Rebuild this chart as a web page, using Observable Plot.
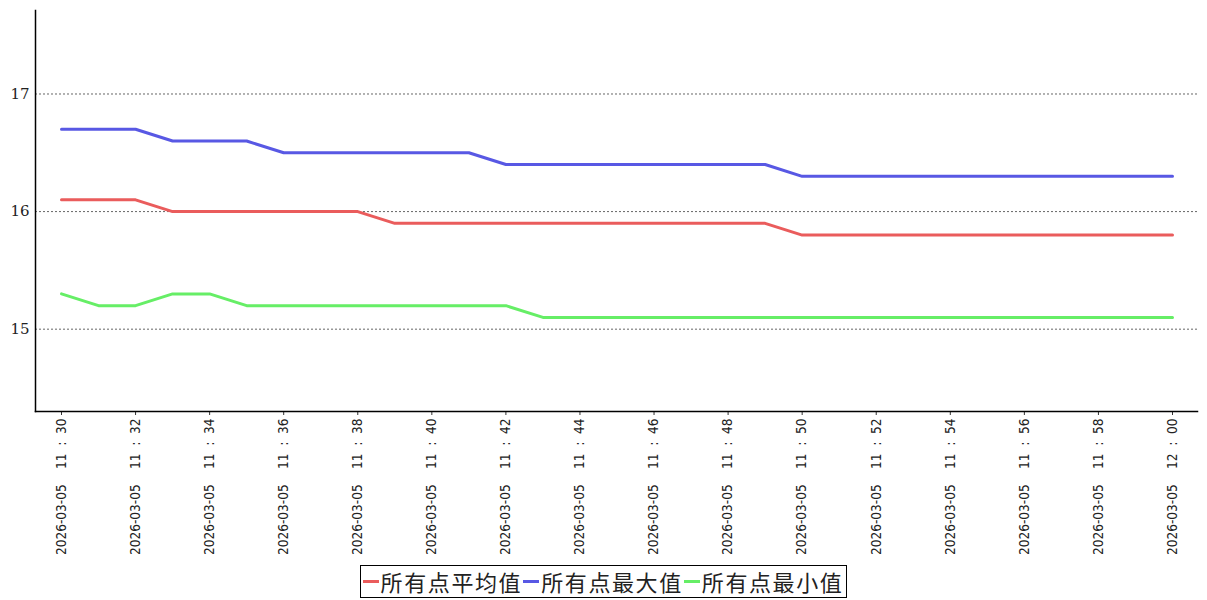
<!DOCTYPE html>
<html>
<head>
<meta charset="utf-8">
<script src="https://cdn.jsdelivr.net/npm/d3@7"></script>
<script src="https://cdn.jsdelivr.net/npm/@observablehq/plot@0.6"></script>
<style>
  html, body { margin: 0; padding: 0; background: #fff; }
  #chart svg { display: block; }
  .legend {
    display: flex; justify-content: center; margin-top: 3px;
  }
  .legend-box {
    display: inline-flex; align-items: center; border: 1px solid #000;
    padding: 1px 3px 1px 1px; font-family: "Noto Sans CJK SC", sans-serif; font-size: 22px;
    letter-spacing: 1.6px; line-height: 29px; color: #222;
  }
  .legend-item { display: inline-flex; align-items: center; }
  .swatch { display: inline-block; width: 16px; height: 3px; margin: 0 2px 0 1px; }
</style>
</head>
<body>
<div id="chart"></div>
<div class="legend"><div class="legend-box" id="legend"></div></div>
<script>
// Sampling times (one per minute) on 2026-03-05
const minutes = [
  "11:30", "11:31", "11:32", "11:33", "11:34", "11:35", "11:36", "11:37",
  "11:38", "11:39", "11:40", "11:41", "11:42", "11:43", "11:44", "11:45",
  "11:46", "11:47", "11:48", "11:49", "11:50", "11:51", "11:52", "11:53",
  "11:54", "11:55", "11:56", "11:57", "11:58", "11:59", "12:00"
];

// Average over all points
const avgVals = [
  16.1, 16.1, 16.1, 16.0, 16.0, 16.0, 16.0, 16.0, 16.0, 15.9, 15.9,
  15.9, 15.9, 15.9, 15.9, 15.9, 15.9, 15.9, 15.9, 15.9, 15.8, 15.8,
  15.8, 15.8, 15.8, 15.8, 15.8, 15.8, 15.8, 15.8, 15.8
];

// Maximum over all points
const maxVals = [
  16.7, 16.7, 16.7, 16.6, 16.6, 16.6, 16.5, 16.5, 16.5, 16.5, 16.5,
  16.5, 16.4, 16.4, 16.4, 16.4, 16.4, 16.4, 16.4, 16.4, 16.3, 16.3,
  16.3, 16.3, 16.3, 16.3, 16.3, 16.3, 16.3, 16.3, 16.3
];

// Minimum over all points
const minVals = [
  15.3, 15.2, 15.2, 15.3, 15.3, 15.2, 15.2, 15.2, 15.2, 15.2, 15.2,
  15.2, 15.2, 15.1, 15.1, 15.1, 15.1, 15.1, 15.1, 15.1, 15.1, 15.1,
  15.1, 15.1, 15.1, 15.1, 15.1, 15.1, 15.1, 15.1, 15.1
];

const seriesNames = ["所有点平均值", "所有点最大值", "所有点最小值"];
const seriesColors = ["#ea5c5c", "#5858e4", "#66ee66"];
const yTicks = [15, 16, 17];

const times = minutes.map(m => new Date(`2026-03-05T${m}:00`));
const seriesVals = [avgVals, maxVals, minVals];
const rows = seriesVals.flatMap((vals, s) =>
  vals.map((v, i) => ({ time: times[i], value: v, series: seriesNames[s] }))
);

// Date and time parts of each tick label, separated by a wide gap
const fmtDate = d3.timeFormat("%Y-%m-%d");
const fmtHour = d3.timeFormat("%H");
const fmtMin = d3.timeFormat("%M");
const tickLabel = d => `${fmtDate(d)}    ${fmtHour(d)}  :  ${fmtMin(d)}`;

const chart = Plot.plot({
  width: 1207,
  height: 562,
  marginLeft: 35,
  marginRight: 10,
  marginTop: 10,
  marginBottom: 151,
  x: {
    type: "time",
    domain: [times[0], times[times.length - 1]],
    insetLeft: 26,
    insetRight: 25
  },
  y: { domain: [14.3, 17.71] },
  color: { domain: seriesNames, range: seriesColors },
  marks: [
    Plot.gridY(yTicks, { stroke: "#666", strokeOpacity: 1, strokeDasharray: "2,2", strokeWidth: 1 }),
    Plot.axisY(yTicks, {
      tickSize: 0, tickPadding: 6, fontSize: 15, fontFamily: "DejaVu Serif",
      fill: "#222", tickFormat: d => String(d), label: null
    }),
    Plot.axisX({
      ticks: d3.timeMinute.every(2),
      tickFormat: tickLabel,
      tickRotate: -90,
      tickSize: 4,
      tickPadding: 3,
      fontSize: 13.5,
      fontFamily: "'DejaVu Sans Condensed', 'DejaVu Sans', sans-serif",
      fill: "#222",
      stroke: "#333",
      label: null
    }),
    Plot.frame({ anchor: "left", stroke: "#000", strokeWidth: 1.5 }),
    Plot.frame({ anchor: "bottom", stroke: "#000", strokeWidth: 1.5 }),
    Plot.line(rows, {
      x: "time", y: "value", z: "series", stroke: "series",
      strokeWidth: 3, strokeLinejoin: "miter", curve: "linear"
    })
  ]
});
document.getElementById("chart").append(chart);

// Legend below the chart
const legend = document.getElementById("legend");
seriesNames.forEach((name, i) => {
  const item = document.createElement("span");
  item.className = "legend-item";
  const sw = document.createElement("span");
  sw.className = "swatch";
  sw.style.background = seriesColors[i];
  item.append(sw, document.createTextNode(name));
  legend.append(item);
});
</script>
</body>
</html>
